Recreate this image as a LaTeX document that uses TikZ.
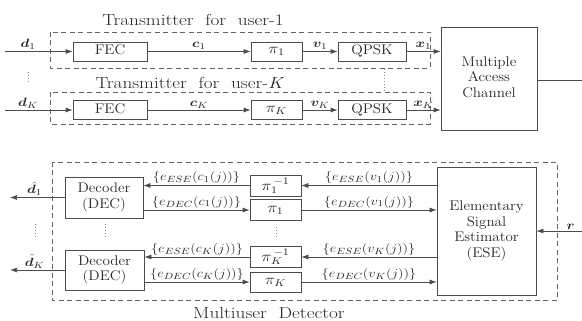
\documentclass[tikz,border=0pt]{standalone}
\usepackage{bm}
\usepackage{graphicx}
\usetikzlibrary{arrows.meta}
\newcommand\hs[1]{\scalebox{1.2}[1]{#1}}
\newcommand\bx[1]{\scalebox{1.08}[1]{\begin{tabular}{@{}c@{}}#1\end{tabular}}}
\begin{document}
\begin{tikzpicture}[x=1pt,y=-1pt,
  sz/.style 2 args={minimum width=#1pt, minimum height=#2pt},
  blk/.style={draw=black!70, line width=0.7pt, inner sep=0pt, align=center, text=black!85, font=\fontsize{14}{15.5}\selectfont},
  dbox/.style={draw=black!60, dash pattern=on 5pt off 3.5pt, line width=0.7pt},
  wire/.style={draw=black!70, line width=0.7pt},
  arr/.style={wire, -{Latex[length=7pt,width=5pt]}},
  lab/.style={inner sep=1.5pt, text=black!85, font=\fontsize{13}{14}\selectfont},
  ttl/.style={inner sep=0pt, text=black!85, font=\fontsize{16}{18}\selectfont},
  dots/.style={draw=black!45, line width=0.9pt, dash pattern=on 1pt off 2pt},
]
\useasboundingbox (0,0) rectangle (582,321);

% ---------- transmitters ----------
\node[ttl] (t1) at (193,20) {\scalebox{1.2}[1]{Transmitter\ \ for\ \ user-1}};
\node[ttl] (tK) at (190,83) {\scalebox{1.2}[1]{Transmitter\ \ for\ \ user-\textit{K}}};
\draw[dbox] (50,32) rectangle (430,68);
\draw[dbox] (50,92) rectangle (430,124);

\node[blk, sz={74}{19}] (fec1) at (110,51.5) {\bx{FEC}};
\node[blk, sz={51}{19}] (pi1) at (276.5,51.5) {\hs{$\pi_1$}};
\node[blk, sz={68}{19}] (qpsk1) at (372,51.5) {\bx{QPSK}};

\node[blk, sz={74}{19}] (fecK) at (110,110) {\bx{FEC}};
\node[blk, sz={51}{19}] (piK) at (276.5,110) {\hs{$\pi_K$}};
\node[blk, sz={68}{19}] (qpskK) at (372,110) {\bx{QPSK}};

\node[blk, sz={96}{103}] (mac) at (489,78.5) {\bx{Multiple\\Access\\Channel}};

\coordinate (din1) at (5,51.5);
\coordinate (dinK) at (5,110);
\draw[arr] (din1) -- (fec1) node[lab, pos=0.34, above] {\hs{$\bm{d}_1$}};
\draw[arr] (fec1) -- (pi1) node[lab, midway, above] {\hs{$\bm{c}_1$}};
\draw[arr] (pi1) -- (qpsk1) node[lab, midway, above] {\hs{$\bm{v}_1$}};
\draw[arr] (qpsk1) -- (qpsk1 -| mac.west) node[lab, midway, above] {\hs{$\bm{x}_1$}};

\draw[arr] (dinK) -- (fecK) node[lab, pos=0.34, above] {\hs{$\bm{d}_K$}};
\draw[arr] (fecK) -- (piK) node[lab, midway, above] {\hs{$\bm{c}_K$}};
\draw[arr] (piK) -- (qpskK) node[lab, midway, above] {\hs{$\bm{v}_K$}};
\draw[arr] (qpskK) -- (qpskK -| mac.west) node[lab, midway, above] {\hs{$\bm{x}_K$}};

\coordinate (mo) at (582,80);
\draw[wire] (mac.east |- mo) -- (mo);

\draw[dots] (28,72) -- (28,83);
\draw[dots] (384,69) -- (384,92);

% ---------- detector ----------
\draw[dbox] (52,162) rectangle (557,300);
\node[ttl] (md) at (269,313) {\scalebox{1.2}[1]{Multiuser\ \ Detector}};

\node[blk, sz={78}{41}] (dec1) at (104,197.5) {\bx{Decoder\\(DEC)}};
\node[blk, sz={79}{40}] (decK) at (104.5,270) {\bx{Decoder\\(DEC)}};
\node[blk, sz={51}{21}] (pi1i) at (275.5,185.5) {\hs{$\pi_1^{\,-1}$}};
\node[blk, sz={51}{21}] (pi1d) at (275.5,210) {\hs{$\pi_1$}};
\node[blk, sz={51}{21}] (piKi) at (275.5,257) {\hs{$\pi_K^{\,-1}$}};
\node[blk, sz={51}{20}] (piKd) at (275.5,282) {\hs{$\pi_K$}};
\node[blk, sz={99}{128}] (ese) at (486.5,231) {\bx{Elementary\\Signal\\Estimator\\(ESE)}};

% user 1
\draw[arr] (ese.west |- pi1i) -- (pi1i.east) node[lab, midway, above] {\hs{$\{e_{ESE}(v_1(j))\}$}};
\draw[arr] (pi1i.west) -- (pi1i -| dec1.east) node[lab, midway, above] {\hs{$\{e_{ESE}(c_1(j))\}$}};
\draw[arr] (pi1d -| dec1.east) -- (pi1d.west) node[lab, midway, above] {\hs{$\{e_{DEC}(c_1(j))\}$}};
\draw[arr] (pi1d.east) -- (pi1d -| ese.west) node[lab, midway, above] {\hs{$\{e_{DEC}(v_1(j))\}$}};
% user K
\draw[arr] (ese.west |- piKi) -- (piKi.east) node[lab, midway, above] {\hs{$\{e_{ESE}(v_K(j))\}$}};
\draw[arr] (piKi.west) -- (piKi -| decK.east) node[lab, midway, above] {\hs{$\{e_{ESE}(c_K(j))\}$}};
\draw[arr] (piKd -| decK.east) -- (piKd.west) node[lab, midway, above] {\hs{$\{e_{DEC}(c_K(j))\}$}};
\draw[arr] (piKd.east) -- (piKd -| ese.west) node[lab, midway, above] {\hs{$\{e_{DEC}(v_K(j))\}$}};

\coordinate (dout1) at (10,197.5);
\coordinate (doutK) at (10,270);
\draw[arr] (dec1.west) -- (dout1) node[lab, pos=0.55, above] {\hs{$\hat{\bm{d}}_1$}};
\draw[arr] (decK.west) -- (doutK) node[lab, pos=0.55, above] {\hs{$\hat{\bm{d}}_K$}};

\coordinate (rin) at (582,231);
\draw[arr] (rin) -- (ese.east) node[lab, pos=0.25, above] {\hs{$\bm{r}$}};

\draw[dots] (35,224) -- (35,237);
\draw[dots] (105,224) -- (105,237);
\draw[dots] (276,227) -- (276,238);
\end{tikzpicture}
\end{document}
